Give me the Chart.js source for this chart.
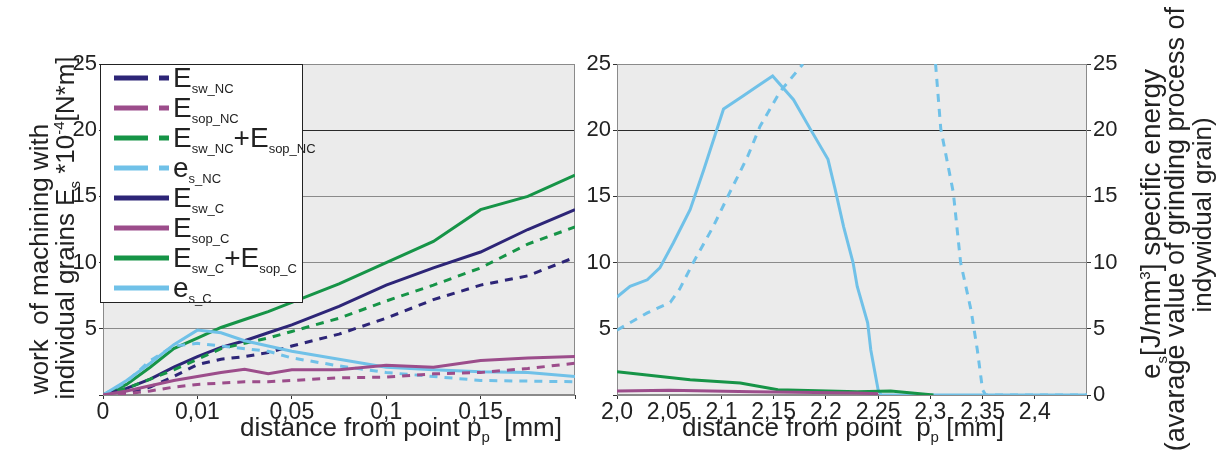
<!DOCTYPE html>
<html>
<head>
<meta charset="utf-8">
<script src="https://cdn.jsdelivr.net/npm/chart.js@4.4.0/dist/chart.umd.min.js"></script>
<style>
body { margin:0; background:#fff; font-family:"Liberation Sans", Arial, sans-serif; color:#222; }
#wrap { position:relative; width:1227px; height:450px; overflow:hidden; }
canvas { position:absolute; top:0; }
.ttl { position:absolute; white-space:nowrap; text-align:center; width:500px; height:30px; line-height:30px; }
.ttl sub, .ttl sup { font-size:15px; }
.rot { transform:rotate(-90deg); }
#legend { position:absolute; left:100px; top:64px; width:201px; height:237px; background:#fff; border:1px solid #222; }
#legend .row { position:absolute; left:0; height:30px; white-space:nowrap; font-size:28px; line-height:30px; }
#legend svg { position:absolute; left:0; top:0; }
#legend .lbl { position:absolute; left:72px; top:0; }
#legend sub { font-size:13px; vertical-align:-6px; }
</style>
</head>
<body>
<div id="wrap">
  <canvas id="left" width="590" height="450" style="left:0"></canvas>
  <canvas id="right" width="647" height="450" style="left:580px"></canvas>
  <div id="legend"></div>
  <div class="ttl rot" style="left:-211px;top:244px;font-size:26px">work&nbsp; of machining with</div>
  <div class="ttl rot" style="left:-191px;top:213px;font-size:26px">individual grains E<sub>s</sub> *10<sup>-4</sup>[N*m]</div>
  <div class="ttl rot" style="left:895px;top:209px;font-size:28px">e<sub>s</sub>[J/mm<sup>3</sup>] specific energy</div>
  <div class="ttl rot" style="left:925px;top:214px;font-size:27px">(avarage value of grinding process of</div>
  <div class="ttl rot" style="left:952px;top:200px;font-size:26px">indywidual grain)</div>
  <div class="ttl" style="left:151px;top:412px;font-size:26px">distance from point p<sub>p</sub>&nbsp; [mm]</div>
  <div class="ttl" style="left:593px;top:412px;font-size:26px">distance from point&nbsp; p<sub>p</sub> [mm]</div>
</div>
<script>
// left panel: ticks 0 / 0,01 / 0,05 / 0,1 / 0,15 sit at equal spacing, so x is in tick steps
const leftTickLabels = ['0', '0,01', '0,05', '0,1', '0,15', ''];
const leftX = [0, 0.25, 0.5, 0.75, 1, 1.25, 1.5, 1.75, 2, 2.5, 3, 3.5, 4, 4.5, 5];

const EswNC     = [0, 0.2, 0.6, 1.4, 2.3, 2.7, 2.9, 3.2, 3.7, 4.6, 5.8, 7.2, 8.3, 9.0, 10.4];
const EsopNC    = [0, 0.1, 0.3, 0.6, 0.8, 0.9, 1.0, 1.0, 1.1, 1.3, 1.35, 1.6, 1.7, 2.0, 2.4];
const EsumNC    = [0, 0.5, 1.2, 1.9, 2.7, 3.5, 3.9, 4.3, 4.8, 5.8, 7.1, 8.3, 9.6, 11.4, 12.7];
const esNC      = [0, 1.0, 2.6, 3.7, 3.9, 3.7, 3.5, 3.3, 2.8, 2.2, 1.7, 1.4, 1.1, 1.05, 1.0];
const EswC      = [0, 0.5, 1.2, 2.1, 2.9, 3.6, 4.1, 4.7, 5.3, 6.7, 8.3, 9.6, 10.8, 12.5, 14.0];
const EsopC     = [0, 0.3, 0.7, 1.1, 1.4, 1.7, 1.95, 1.6, 1.9, 1.9, 2.25, 2.1, 2.6, 2.8, 2.9];
const EsumC     = [0, 0.8, 2.1, 3.5, 4.3, 5.1, 5.7, 6.3, 7.0, 8.4, 10.0, 11.6, 14.0, 15.0, 16.6];
const esC       = [0, 1.1, 2.4, 3.8, 4.9, 4.7, 4.1, 3.7, 3.3, 2.7, 2.1, 1.9, 1.75, 1.7, 1.4];

// right panel
const rightTicks = [2.0, 2.05, 2.1, 2.15, 2.2, 2.25, 2.3, 2.35, 2.4, 2.45];
const rightTickLabels = ['2,0', '2,05', '2,1', '2,15', '2,2', '2,25', '2,3', '2,35', '2,4', ''];
const esC_rx  = [2.0, 2.0125, 2.029, 2.041, 2.054, 2.07, 2.083, 2.102, 2.121, 2.134, 2.149, 2.169, 2.185, 2.202, 2.209, 2.217, 2.226, 2.23, 2.24, 2.243, 2.25, 2.253, 2.45];
const esC_ry  = [7.4, 8.2, 8.7, 9.6, 11.5, 14.0, 17.0, 21.6, 22.6, 23.3, 24.1, 22.3, 20.1, 17.8, 15.5, 12.7, 10.0, 8.2, 5.45, 3.4, 0.4, 0, 0];
const esNC_rx = [2.0, 2.029, 2.051, 2.06, 2.073, 2.092, 2.108, 2.125, 2.137, 2.156, 2.178, 2.24, 2.305, 2.31, 2.322, 2.329, 2.339, 2.345, 2.35, 2.353, 2.45];
const esNC_ry = [4.9, 6.2, 7.0, 8.0, 10.0, 12.7, 15.3, 18.0, 20.3, 22.9, 25, null, 25, 20.1, 15.3, 10.0, 6.4, 3.4, 0.4, 0, 0];
const EsumC_rx = [2.0, 2.07, 2.118, 2.154, 2.23, 2.262, 2.303];
const EsumC_ry = [1.75, 1.15, 0.9, 0.4, 0.25, 0.3, 0];
const EsopC_rx = [2.0, 2.05, 2.13, 2.23, 2.25];
const EsopC_ry = [0.3, 0.35, 0.25, 0.15, 0.1];

const cNavy = '#2d2577', cMauve = '#9c4d8b', cGreen = '#169447', cBlue = '#70c1e8';
const dash = [8, 7];
const fam = '"Liberation Sans", Arial, sans-serif';

function pts(xs, ys) { return xs.map((x, i) => ({ x: x, y: ys[i] })); }
function line(data, color, dashed) {
  return { data: data, borderColor: color, borderWidth: 3, borderDash: dashed ? dash : [],
           pointRadius: 0, tension: 0, fill: false, spanGaps: false };
}

const legendItems = [
  ['E<sub>sw_NC</sub>', cNavy, true],
  ['E<sub>sop_NC</sub>', cMauve, true],
  ['E<sub>sw_NC</sub>+E<sub>sop_NC</sub>', cGreen, true],
  ['e<sub>s_NC</sub>', cBlue, true],
  ['E<sub>sw_C</sub>', cNavy, false],
  ['E<sub>sop_C</sub>', cMauve, false],
  ['E<sub>sw_C</sub>+E<sub>sop_C</sub>', cGreen, false],
  ['e<sub>s_C</sub>', cBlue, false]
];
let html = '';
legendItems.forEach((it, i) => {
  const da = it[2] ? ' stroke-dasharray="34 11 10 100"' : '';
  html += '<div class="row" style="top:' + (-2 + i * 30) + 'px">' +
    '<svg width="70" height="30"><line x1="13" y1="15" x2="68" y2="15" stroke="' + it[1] + '" stroke-width="5"' + da + '/></svg>' +
    '<span class="lbl">' + it[0] + '</span></div>';
});
document.getElementById('legend').innerHTML = html;

const panelBg = {
  id: 'panelBg',
  beforeDraw(chart) {
    const a = chart.chartArea, ctx = chart.ctx;
    ctx.save();
    ctx.fillStyle = '#ebebeb';
    ctx.fillRect(a.left, a.top, a.right - a.left, a.bottom - a.top);
    ctx.restore();
  },
  beforeDatasetsDraw(chart) {
    const a = chart.chartArea, ctx = chart.ctx;
    ctx.save();
    ctx.strokeStyle = '#8a8a8a';
    ctx.lineWidth = 1;
    ctx.strokeRect(a.left + 0.5, a.top + 0.5, a.right - a.left - 1, a.bottom - a.top - 1);
    ctx.restore();
  }
};

function yAxis(width, pos, grid) {
  return {
    type: 'linear', position: pos, min: 0, max: 25,
    afterFit: s => { s.width = width; },
    border: { display: false },
    grid: {
      drawOnChartArea: grid, tickLength: 4, tickColor: '#333',
      color: c => (c.tick && c.tick.value === 20) ? '#2a2a2a' : '#8a8a8a'
    },
    ticks: { stepSize: 5, font: { family: fam, size: 22 }, color: '#222', padding: 2,
             callback: v => (pos === 'left' && v === 0) ? '' : v }
  };
}

function xAxis(ticks, labels, min, max) {
  return {
    type: 'linear', min: min, max: max,
    afterBuildTicks: s => { s.ticks = ticks.map(v => ({ value: v })); },
    afterFit: s => { s.height = 55; },
    border: { display: false },
    grid: { drawOnChartArea: false, tickLength: 4, color: '#333' },
    ticks: { autoSkip: false, maxRotation: 0, font: { family: fam, size: 23 }, color: '#222', padding: 0,
             callback: (v, i) => labels[i] }
  };
}

new Chart(document.getElementById('left'), {
  type: 'line',
  data: {
    datasets: [
      line(pts(leftX, EsopNC), cMauve, true),
      line(pts(leftX, EsopC), cMauve, false),
      line(pts(leftX, esNC), cBlue, true),
      line(pts(leftX, esC), cBlue, false),
      line(pts(leftX, EswNC), cNavy, true),
      line(pts(leftX, EsumNC), cGreen, true),
      line(pts(leftX, EswC), cNavy, false),
      line(pts(leftX, EsumC), cGreen, false)
    ]
  },
  options: {
    responsive: false, animation: false,
    layout: { padding: { top: 64, right: 15, left: 0, bottom: 0 } },
    plugins: { legend: { display: false }, tooltip: { enabled: false } },
    scales: {
      x: xAxis([0, 1, 2, 3, 4, 5], leftTickLabels, 0, 5),
      y: yAxis(103, 'left', true)
    }
  },
  plugins: [panelBg]
});

new Chart(document.getElementById('right'), {
  type: 'line',
  data: {
    datasets: [
      line(pts(EsopC_rx, EsopC_ry), cMauve, false),
      line(pts(EsumC_rx, EsumC_ry), cGreen, false),
      line(pts(esNC_rx, esNC_ry), cBlue, true),
      line(pts(esC_rx, esC_ry), cBlue, false)
    ]
  },
  options: {
    responsive: false, animation: false,
    layout: { padding: { top: 64, right: 0, left: 0, bottom: 0 } },
    plugins: { legend: { display: false }, tooltip: { enabled: false } },
    scales: {
      x: xAxis(rightTicks, rightTickLabels, 2.0, 2.45),
      y: yAxis(37, 'left', true),
      y2: yAxis(140, 'right', false)
    }
  },
  plugins: [panelBg]
});
</script>
</body>
</html>
